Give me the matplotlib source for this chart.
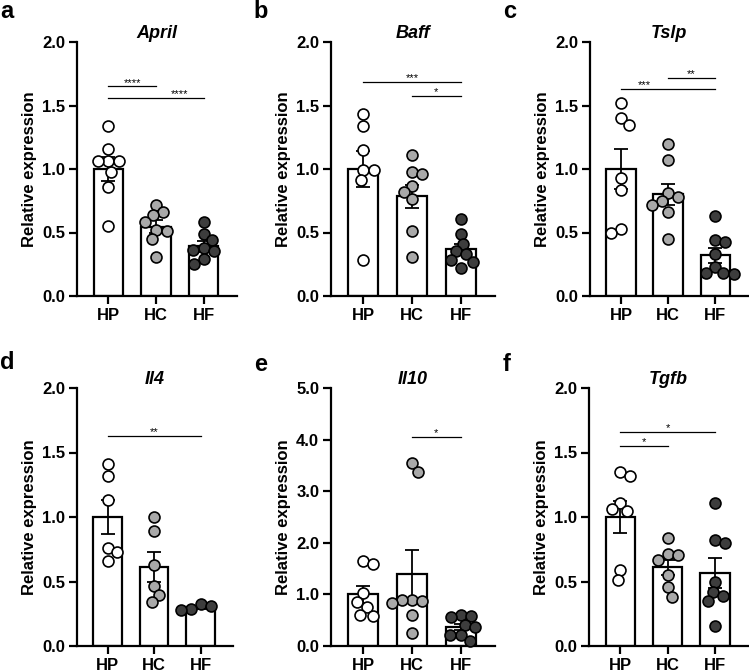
import matplotlib
matplotlib.use('Agg')
import matplotlib.pyplot as plt
import numpy as np

plt.rcParams['font.family'] = ['Liberation Sans', 'DejaVu Sans']
plt.rcParams['font.weight'] = 'bold'

groups = ['HP', 'HC', 'HF']
genes = ['April', 'Baff', 'Tslp', 'Il4', 'Il10', 'Tgfb']
letters = ['a', 'b', 'c', 'd', 'e', 'f']

# individual values
april_hp = [1.34, 1.16, 1.06, 1.06, 1.06, 0.98, 0.86, 0.55]
april_hc = [0.72, 0.66, 0.64, 0.585, 0.52, 0.515, 0.445, 0.31]
april_hf = [0.585, 0.485, 0.44, 0.38, 0.36, 0.355, 0.29, 0.255]

baff_hp = [1.43, 1.34, 1.15, 0.99, 0.99, 0.91, 0.28]
baff_hc = [1.11, 0.98, 0.96, 0.87, 0.82, 0.76, 0.51, 0.31]
baff_hf = [0.61, 0.49, 0.41, 0.355, 0.33, 0.28, 0.265, 0.22]

tslp_hp = [1.52, 1.40, 1.35, 0.93, 0.835, 0.53, 0.50]
tslp_hc = [1.20, 1.07, 0.81, 0.78, 0.745, 0.72, 0.665, 0.45]
tslp_hf = [0.63, 0.44, 0.425, 0.33, 0.23, 0.185, 0.18, 0.17]

il4_hp = [1.41, 1.32, 1.13, 0.76, 0.725, 0.66]
il4_hc = [1.0, 0.89, 0.63, 0.465, 0.395, 0.34]
il4_hf = [0.325, 0.31, 0.29, 0.28]

il10_hp = [1.65, 1.58, 1.02, 0.85, 0.76, 0.61, 0.59]
il10_hc = [3.55, 3.38, 0.90, 0.89, 0.88, 0.83, 0.61, 0.26]
il10_hf = [0.60, 0.59, 0.56, 0.41, 0.375, 0.21, 0.21, 0.10]

tgfb_hp = [1.35, 1.32, 1.11, 1.06, 1.05, 0.59, 0.51]
tgfb_hc = [0.84, 0.71, 0.705, 0.67, 0.55, 0.455, 0.38]
tgfb_hf = [1.11, 0.82, 0.80, 0.50, 0.42, 0.39, 0.35, 0.155]

points = [
    [april_hp, april_hc, april_hf],
    [baff_hp, baff_hc, baff_hf],
    [tslp_hp, tslp_hc, tslp_hf],
    [il4_hp, il4_hc, il4_hf],
    [il10_hp, il10_hc, il10_hf],
    [tgfb_hp, tgfb_hc, tgfb_hf],
]

# bar heights (mean) and SEM
means = [
    [1.0, 0.545, 0.39],
    [1.0, 0.785, 0.37],
    [1.0, 0.80, 0.32],
    [1.0, 0.615, 0.30],
    [1.0, 1.39, 0.37],
    [1.0, 0.61, 0.565],
]
sems = [
    [0.092, 0.05, 0.04],
    [0.14, 0.09, 0.04],
    [0.16, 0.085, 0.06],
    [0.13, 0.115, 0.012],
    [0.17, 0.48, 0.06],
    [0.125, 0.06, 0.115],
]
ymax = [2.0, 2.0, 2.0, 2.0, 5.0, 2.0]

# significance: (group i, group j, y, label, label x)
sig = [
    [(0, 1, 1.65, '****', 0.5), (0, 2, 1.557, '****', 1.5)],
    [(0, 2, 1.685, '***', 1.0), (1, 2, 1.573, '*', 1.5)],
    [(1, 2, 1.72, '**', 1.5), (0, 2, 1.628, '***', 0.5)],
    [(0, 2, 1.628, '**', 1.0)],
    [(1, 2, 4.06, '*', 1.5)],
    [(0, 2, 1.661, '*', 1.0), (0, 1, 1.55, '*', 0.5)],
]

colors = ['white', '#a9a9a9', '#3d3d3d']

W, H = 749, 672
fig = plt.figure(figsize=(W / 100, H / 100), dpi=100)

# axes boxes in pixels: left, top, right, bottom
boxes = [(77, 42, 237, 296), (331, 42, 495, 296), (590, 42, 748, 296),
         (77, 388, 233, 646), (331, 388, 495, 646), (589, 388, 748, 646)]
letter_pos = [(0, 18), (253, 18), (503, 18), (0, 369), (254, 371), (503, 371)]
xlo, xhi = -0.66, 2.7


def swarm(vals, xpu, ypu, D=10.5):
    # beeswarm: each point goes to the free x closest to the centre
    placed = []
    offs = []
    side = 1
    for v in vals:
        y = v * ypu
        cands = [0.0]
        for px, py in placed:
            dy = abs(y - py)
            if dy < D:
                dx = np.sqrt(D * D - dy * dy)
                cands += [px - dx, px + dx]
        cands = sorted(cands, key=lambda c: (round(abs(c), 3), -side * np.sign(c)))
        for c in cands:
            if all((c - px) ** 2 + (y - py) ** 2 >= D * D - 1e-6 for px, py in placed):
                break
        if c != 0:
            side = -np.sign(c)
        placed.append((c, y))
        offs.append(c / xpu)
    return np.array(offs)


for n in range(6):
    l, t, r, b = boxes[n]
    ax = fig.add_axes([l / W, 1 - b / H, (r - l) / W, (b - t) / H])
    xs = np.arange(3)
    ax.bar(xs, means[n], width=0.62, color='white', edgecolor='black', linewidth=1.6, zorder=1)
    ax.errorbar(xs, means[n], yerr=sems[n], fmt='none', ecolor='black', elinewidth=1.3,
                capsize=4.8, capthick=1.3, zorder=2)
    xpu = (r - l) / (xhi - xlo)
    ypu = (b - t) / ymax[n]
    for i in range(3):
        v = np.array(points[n][i])
        ax.scatter(i + swarm(v, xpu, ypu), v, s=62, facecolor=colors[i], edgecolor='black',
                   linewidth=1.2, zorder=3, clip_on=False)
    for i, j, y, lab, tx in sig[n]:
        ax.plot([i, j], [y, y], color='black', lw=0.9, clip_on=False)
        ax.annotate(lab, (tx, y), xytext=(0, 0.5), textcoords='offset points',
                    ha='center', va='baseline', fontsize=8, fontweight='normal')
    ax.set_xlim(xlo, xhi)
    ax.set_ylim(0, ymax[n])
    if ymax[n] == 5.0:
        ax.set_yticks(np.arange(0, 5.01, 1.0))
    else:
        ax.set_yticks(np.arange(0, 2.01, 0.5))
    ax.yaxis.set_major_formatter(matplotlib.ticker.FormatStrFormatter('%.1f'))
    ax.set_xticks(xs)
    ax.set_xticklabels(groups)
    for s in ['top', 'right']:
        ax.spines[s].set_visible(False)
    for s in ['left', 'bottom']:
        ax.spines[s].set_linewidth(1.6)
    ax.tick_params(direction='out', length=5.5, width=1.6, labelsize=12, pad=3)
    ax.set_ylabel('Relative expression', fontsize=12, fontweight='bold')
    ax.yaxis.set_label_coords(-40 / (r - l), 0.5)
    ax.set_title(genes[n], fontsize=13, fontweight='bold', style='italic',
                 pad=2 if n < 3 else -3)
    lx, ly = letter_pos[n]
    fig.text(lx / W, 1 - ly / H, letters[n], fontsize=17, fontweight='bold',
             ha='left', va='baseline')

fig.savefig('out.png', dpi=100)
